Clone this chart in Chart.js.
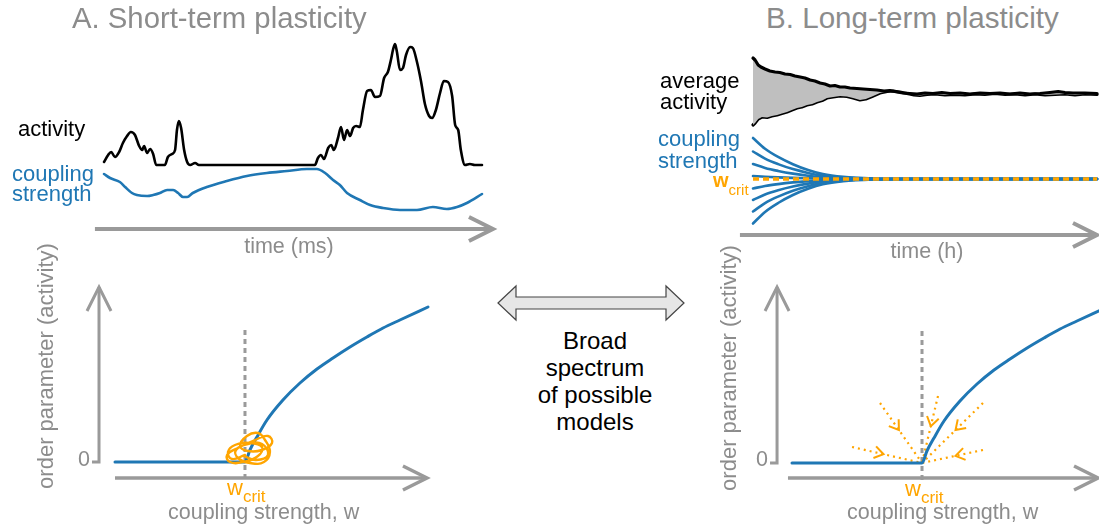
<!DOCTYPE html>
<html>
<head>
<meta charset="utf-8">
<script src="https://cdn.jsdelivr.net/npm/chart.js@4.4.1/dist/chart.umd.min.js"></script>
<style>
html, body { margin: 0; padding: 0; background: #fff; }
#fig { position: relative; width: 1099px; height: 529px; overflow: hidden;
       font-family: "Liberation Sans", Arial, Helvetica, sans-serif; }
#fig canvas { position: absolute; }
.t { position: absolute; white-space: nowrap; line-height: 1; }
.gray { color: #8c8c8c; }
.blue { color: #1f77b4; }
.orange { color: #ffa500; }
.vlab { font-size: 22px; transform: translate(-50%, -50%) rotate(-90deg); }
</style>
</head>
<body>
<div id="fig">
  <canvas id="cA1" width="510" height="240" style="left:0;top:30px"></canvas>
  <canvas id="cA2" width="450" height="259" style="left:0;top:270px"></canvas>
  <canvas id="cB1" width="499" height="230" style="left:600px;top:40px"></canvas>
  <canvas id="cB2" width="399" height="259" style="left:700px;top:270px"></canvas>

  <div class="t gray" style="left:72px;top:3px;font-size:29.3px">A. Short-term plasticity</div>
  <div class="t gray" style="left:766px;top:3px;font-size:29.6px">B. Long-term plasticity</div>

  <div class="t" style="left:18px;top:118px;font-size:22px">activity</div>
  <div class="t blue" style="left:12px;top:164px;font-size:22px;line-height:20px">coupling<br>strength</div>
  <div class="t gray" style="left:289px;top:236px;font-size:21.5px;transform:translateX(-50%)">time (ms)</div>

  <div class="t gray vlab" style="left:46px;top:366px">order parameter (activity)</div>
  <div class="t gray" style="left:90px;top:449px;font-size:21.5px;transform:translateX(-100%)">0</div>
  <div class="t orange" style="left:227px;top:477px;font-size:22px">w<span style="font-size:17px;position:relative;top:7px">crit</span></div>
  <div class="t gray" style="left:168px;top:502px;font-size:21.5px">coupling strength, w</div>

  <svg style="position:absolute;left:490px;top:280px" width="200" height="50">
    <polygon points="8,23 26,6 26,17 176,17 176,6 194,23 176,40 176,29 26,29 26,40"
             fill="#e6e6e6" stroke="#444" stroke-width="1.2"/>
  </svg>
  <div class="t" style="left:595px;top:327px;font-size:24px;line-height:27px;text-align:center;transform:translateX(-50%)">Broad<br>spectrum<br>of possible<br>models</div>

  <div class="t" style="left:660px;top:70px;font-size:22px;line-height:21px">average<br>activity</div>
  <div class="t blue" style="left:658px;top:128px;font-size:22px;line-height:22px">coupling<br>strength</div>
  <div class="t orange" style="left:713px;top:170px;font-size:20px;font-weight:bold">w<span style="font-size:15px;font-weight:normal;position:relative;top:8px">crit</span></div>
  <div class="t gray" style="left:927px;top:241px;font-size:21.5px;transform:translateX(-50%)">time (h)</div>

  <div class="t gray vlab" style="left:729px;top:368px">order parameter (activity)</div>
  <div class="t gray" style="left:768px;top:449px;font-size:21.5px;transform:translateX(-100%)">0</div>
  <div class="t orange" style="left:905px;top:478px;font-size:22px">w<span style="font-size:17px;position:relative;top:7px">crit</span></div>
  <div class="t gray" style="left:847px;top:502px;font-size:21.5px">coupling strength, w</div>
</div>

<script>
// A: short-term plasticity time course (time 0..100, arbitrary units)
const timeA = [0,1.1,1.9,2.9,4.0,5.0,6.1,7.1,8.2,9.3,10.1,10.6,11.4,12.2,13.0,13.8,16.1,16.9,18.0,18.8,
  19.3,19.8,20.4,21.2,22.0,22.8,24.1,25.1,55.8,56.6,57.4,58.2,59.3,60.1,60.8,61.9,62.7,63.5,64.3,65.1,
  65.9,66.7,67.7,68.5,69.6,70.6,71.7,73.0,74.1,75.1,75.9,76.5,77.0,77.5,78.3,79.1,79.9,81.0,81.7,82.8,
  83.9,84.9,86.0,86.8,87.8,88.9,89.9,91.0,92.1,92.9,93.7,94.4,95.5,96.8,98.1,100];
const activityA = [0.3,1.0,1.3,0.8,1.3,2.2,2.9,3.3,3.0,1.9,1.5,1.9,1.2,1.6,1.1,0,0,0.8,1.1,1.5,
  3.5,4.4,3.7,1.5,0.3,0,0.2,0,0,0.7,1.0,0.6,1.7,2.0,1.5,2.7,3.8,2.5,3.5,2.9,
  3.7,3.9,3.8,5.5,7.4,7.5,6.8,6.9,8.7,9.3,10.5,11.6,12.1,11.3,9.5,9.7,11.0,11.8,11.7,10.3,
  8.3,6.1,4.9,4.7,5.5,7.2,8.4,8.3,6.9,4.0,3.5,1.5,0,0.1,0,0];
const couplingTimeA = [0,1.6,4.2,5.6,7.4,8.7,11.4,13.0,14.8,16.7,18.3,19.6,20.9,22.0,23.5,27.2,32.5,37.8,
  43.1,48.4,53.7,56.3,58.5,60.6,62.4,64.3,67.7,70.4,73.8,78.3,82.8,87.0,90.7,93.4,96.0,100];
const couplingA = [3.6,3.2,2.8,2.3,1.7,1.5,1.4,1.5,1.7,2.0,2.0,1.7,1.3,1.3,1.7,2.3,2.9,3.4,
  3.7,3.9,4.1,4.1,3.7,3.0,2.5,1.7,1.0,0.5,0.2,0,0,0.3,0.1,0.3,0.7,1.6];

// order parameter vs coupling strength (w_crit = 1)
const wCrit = 1;
const wCurve = [0,1,1.038,1.092,1.169,1.292,1.423,1.554,1.677,1.808,1.938,2.062,2.192,2.408];
const orderCurve = [0,0,0.12,0.25,0.42,0.62,0.79,0.93,1.04,1.15,1.25,1.34,1.42,1.55];

// fluctuating trajectory around w_crit (A)
const scribbleW = [1.000,0.900,0.869,0.923,1.038,1.131,1.100,0.985,0.885,0.862,0.946,1.077,1.177,1.208,1.131,
  1.023,0.962,1.015,1.100,1.154,1.192,1.146,1.038,0.946,0.931,1.023,1.131,1.177,1.085,0.992];
const scribbleOrder = [0.07,0.03,0.10,0.17,0.19,0.15,0.06,0.00,0.00,0.07,0.14,0.22,0.26,0.19,0.12,
  0.11,0.16,0.26,0.29,0.22,0.10,0.00,-0.01,0.04,0.12,0.18,0.18,0.07,0.02,0.06];

// B: long-term plasticity, average activity envelope
const timeUpper = [0,0.6,1.5,2.3,3.5,4.9,6.4,7.8,9.3,10.8,12.2,13.7,15.1,16.6,18.0,19.5,20.9,22.4,23.8,25.3,
  26.7,28.2,30.2,32.0,34.0,36.0,38.1,39.8,41.9,43.6,45.6,47.7,50.0,52.3,54.9,57.3,60.2,63.1,66.0,68.9,
  71.8,74.7,77.6,80.5,83.4,86.3,88.7,90.7,93.0,96.5,100];
const avgUpper = [3.6,3.4,2.9,2.7,2.5,2.3,2.2,2.15,2.0,1.95,1.8,1.7,1.6,1.4,1.3,1.1,1.0,0.8,0.85,0.7,
  0.7,0.6,0.55,0.5,0.45,0.4,0.3,0.35,0.2,0.1,0.05,0,0.1,0.05,0.15,0.05,0.1,0,0.1,0.05,
  0.1,0,0.1,0,0.05,0.15,0.25,0.15,0.1,0.1,0.05];
const timeLower = [0,0.6,1.5,2.6,4.1,5.5,7.0,8.4,9.9,11.3,12.8,14.2,15.7,17.2,18.6,20.1,21.5,23.3,25.3,27.3,
  29.1,31.1,32.8,34.6,36.9,39.0,40.7,42.7,44.8,46.8,48.5,50.6,52.9,55.8,58.7,61.6,64.5,67.4,70.3,73.3,
  76.2,79.1,82.0,84.9,87.8,90.7,93.6,96.5,100];
const avgLower = [-3.1,-2.9,-2.5,-2.3,-2.35,-2.2,-2.1,-1.95,-1.8,-1.6,-1.4,-1.3,-1.1,-1.0,-0.8,-0.65,-0.4,-0.3,-0.2,-0.25,
  -0.4,-0.6,-0.5,-0.25,0.1,0.25,0.3,0.2,0.05,-0.1,-0.15,-0.05,0,-0.1,-0.05,-0.1,0,-0.05,0.05,-0.05,
  0,-0.1,0,-0.1,-0.05,0,-0.1,0,-0.05];

// B: coupling strengths relaxing to w_crit (0 = w_crit)
const timeCouplingB = [0,3.5,7.3,11.6,16,20.3,26.2,34.9,43.6,100];
const couplingB = [
  [4.1,3.03,2.21,1.48,0.9,0.49,0.21,0.04,0,0],
  [2.75,2.04,1.49,0.99,0.61,0.33,0.14,0.03,0,0],
  [1.5,1.11,0.81,0.54,0.33,0.18,0.08,0.02,0,0],
  [0.3,0.22,0.16,0.11,0.07,0.04,0.02,0,0,0],
  [-0.95,-0.7,-0.51,-0.34,-0.21,-0.11,-0.05,-0.01,0,0],
  [-2.1,-1.55,-1.13,-0.76,-0.46,-0.25,-0.11,-0.02,0,0],
  [-3.25,-2.41,-1.76,-1.17,-0.72,-0.39,-0.16,-0.03,0,0],
  [-4.45,-3.29,-2.4,-1.6,-0.98,-0.53,-0.22,-0.04,0,0]
];

// B: start points of the drift arrows towards w_crit
const arrowStartW = [0.462,0.677,1.123,1.469,1.469];
const arrowStartOrder = [0.16,0.60,0.67,0.60,0.13];

const BLUE = '#1f77b4', ORANGE = '#ffa500', AXIS = '#9a9a9a';

function pts(xs, ys) { return xs.map((x, i) => ({x: x, y: ys[i]})); }

function chevron(ctx, x0, y0, x1, y1, len, half) {
  const d = Math.hypot(x1 - x0, y1 - y0) || 1;
  const ux = (x1 - x0) / d, uy = (y1 - y0) / d;
  ctx.beginPath();
  ctx.moveTo(x1 - ux * len - uy * half, y1 - uy * len + ux * half);
  ctx.lineTo(x1, y1);
  ctx.lineTo(x1 - ux * len + uy * half, y1 - uy * len - ux * half);
  ctx.stroke();
}

// gray arrow axes and guide lines, given in data units
const arrowAxes = {
  id: 'arrowAxes',
  beforeDatasetsDraw(chart, args, opts) {
    const ctx = chart.ctx;
    (opts.items || []).forEach(it => {
      const xs = chart.scales[it.xAxis || 'x'], ys = chart.scales[it.yAxis || 'y'];
      const p = it.path.map(q => [xs.getPixelForValue(q[0]), ys.getPixelForValue(q[1])]);
      ctx.save();
      ctx.strokeStyle = it.color || AXIS;
      ctx.lineWidth = it.width || 3.5;
      ctx.lineJoin = 'miter';
      ctx.setLineDash(it.dash || []);
      ctx.beginPath();
      p.forEach((q, i) => i ? ctx.lineTo(q[0], q[1]) : ctx.moveTo(q[0], q[1]));
      ctx.stroke();
      if (it.head) {
        ctx.setLineDash([]);
        const a = p[p.length - 2], b = p[p.length - 1];
        chevron(ctx, a[0], a[1], b[0], b[1], 24, 12);
      }
      ctx.restore();
    });
  }
};

// small open arrowheads part-way along a dataset's line
const midArrows = {
  id: 'midArrows',
  afterDatasetsDraw(chart) {
    const ctx = chart.ctx;
    chart.data.datasets.forEach((ds, i) => {
      if (ds.headAt == null) return;
      const el = chart.getDatasetMeta(i).data;
      const a = el[0], b = el[el.length - 1];
      const hx = a.x + (b.x - a.x) * ds.headAt, hy = a.y + (b.y - a.y) * ds.headAt;
      ctx.save();
      ctx.strokeStyle = ds.borderColor;
      ctx.lineWidth = 2;
      ctx.setLineDash([]);
      chevron(ctx, a.x, a.y, hx, hy, 9, 6);
      ctx.restore();
    });
  }
};

Chart.register(arrowAxes, midArrows);

function options(pad, ranges, arrows) {
  const scales = {};
  Object.keys(ranges).forEach(id => {
    scales[id] = { type: 'linear', display: false, axis: id.charAt(0), min: ranges[id][0], max: ranges[id][1] };
  });
  return {
    responsive: false,
    animation: false,
    events: [],
    layout: { padding: pad },
    elements: {
      point: { radius: 0 },
      line: { capBezierPoints: false, borderJoinStyle: 'round', borderCapStyle: 'round' }
    },
    plugins: { legend: { display: false }, tooltip: { enabled: false }, arrowAxes: { items: arrows } },
    scales: scales
  };
}

function line(data, color, width, extra) {
  return Object.assign({ data: data, showLine: true, borderColor: color, borderWidth: width,
    pointRadius: 0, fill: false, clip: false }, extra || {});
}

// Chart.js paints the first dataset last, so marks that sit on top come first below

// A, top: activity and coupling strength over time
new Chart(document.getElementById('cA1'), {
  type: 'scatter',
  data: { datasets: [
    line(pts(timeA, activityA), '#000', 2.6, { yAxisID: 'y', cubicInterpolationMode: 'monotone' }),
    line(pts(couplingTimeA, couplingA), BLUE, 2.6, { yAxisID: 'y2', cubicInterpolationMode: 'monotone' })
  ]},
  options: options({ left: 104, right: 28, top: 14, bottom: 60 },
    { x: [0, 100], y: [-4.5, 12.1], y2: [0, 16.6] },
    [{ yAxis: 'y2', path: [[-2.4, -1.9], [102.9, -1.9]], head: true, width: 4 }])
});

// A, bottom: phase transition with fluctuating trajectory
new Chart(document.getElementById('cA2'), {
  type: 'scatter',
  data: { datasets: [
    line(pts(scribbleW, scribbleOrder), ORANGE, 2.4, { tension: 0.45 }),
    line(pts(wCurve, orderCurve), BLUE, 3, { cubicInterpolationMode: 'monotone' })
  ]},
  options: options({ left: 115, right: 22, top: 37, bottom: 67 },
    { x: [0, 2.408], y: [0, 1.55] },
    [
      { path: [[wCrit, -0.17], [wCrit, 1.32]], dash: [5, 4], width: 3 },
      { path: [[-0.177, 0], [-0.123, 0], [-0.123, 1.75]], head: true, width: 3 },
      { path: [[0, -0.16], [2.4, -0.16]], head: true, width: 3.5 }
    ])
});

// B, top: average activity and coupling strengths over time
const bTop = [line([{x: 0, y: 0}, {x: 100, y: 0}], ORANGE, 3.5,
  { yAxisID: 'y2', borderDash: [6, 4], borderCapStyle: 'butt' })];
couplingB.forEach(c => bTop.push(
  line(pts(timeCouplingB, c), BLUE, 2.6, { yAxisID: 'y2', cubicInterpolationMode: 'monotone' })));
bTop.push(
  line(pts(timeUpper, avgUpper), '#000', 3.2, { yAxisID: 'y', fill: '+1', backgroundColor: '#bfbfbf' }),
  line(pts(timeLower, avgLower), '#000', 3.2, { yAxisID: 'y' }));

new Chart(document.getElementById('cB1'), {
  type: 'scatter',
  data: { datasets: bTop },
  options: options({ left: 153, right: 2, top: 19, bottom: 46 },
    { x: [0, 100], y: [-13, 3.5], y2: [-4.5, 12] },
    [{ yAxis: 'y2', path: [[-3.8, -5.6], [100, -5.6]], head: true, width: 4 }])
});

// B, bottom: phase transition with drift towards w_crit
const bBottom = [line(pts(wCurve, orderCurve), BLUE, 3, { cubicInterpolationMode: 'monotone' })];
arrowStartW.forEach((w, i) => bBottom.push(
  line([{x: w, y: arrowStartOrder[i]}, {x: wCrit, y: 0}], ORANGE, 2.2,
    { borderDash: [2, 4], borderCapStyle: 'butt', headAt: 0.45 })));

new Chart(document.getElementById('cB2'), {
  type: 'scatter',
  data: { datasets: bBottom },
  options: options({ left: 92, right: 2, top: 38, bottom: 66 },
    { x: [0, 2.346], y: [0, 1.55] },
    [
      { path: [[wCrit, -0.17], [wCrit, 1.36]], dash: [5, 4], width: 3 },
      { path: [[-0.169, 0], [-0.115, 0], [-0.115, 1.76]], head: true, width: 3 },
      { path: [[-0.031, -0.15], [2.354, -0.15]], head: true, width: 3.5 }
    ])
});
</script>
</body>
</html>
